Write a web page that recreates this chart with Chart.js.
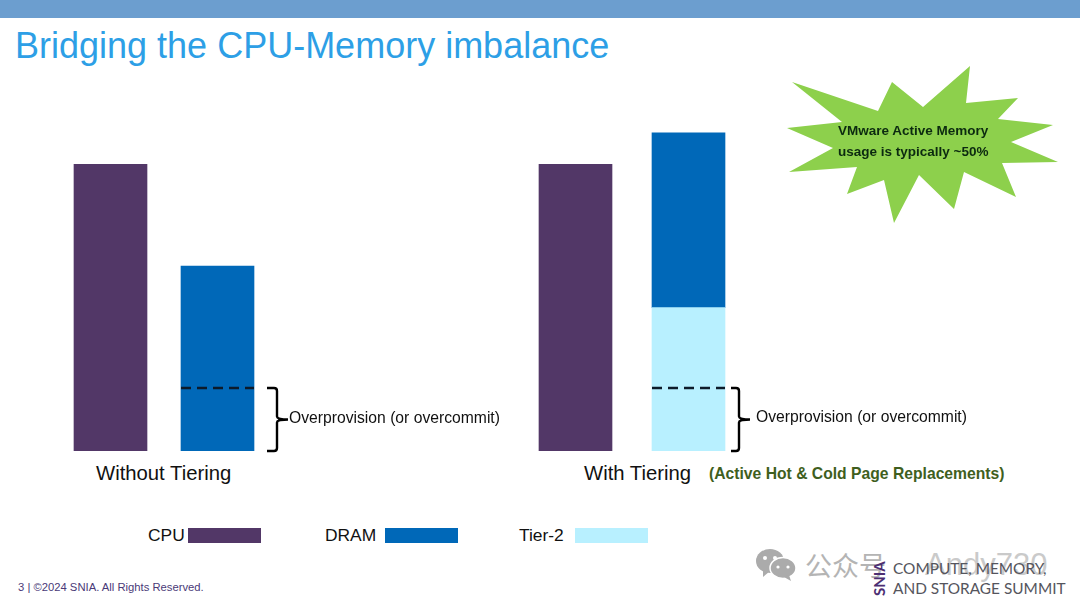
<!DOCTYPE html>
<html><head><meta charset="utf-8">
<script src="https://cdn.jsdelivr.net/npm/chart.js@4"></script>
<style>
html,body{margin:0;padding:0;background:#fff;}
#page{position:relative;width:1080px;height:608px;overflow:hidden;font-family:"Liberation Sans",Arial,sans-serif;background:#fff;}
.t{position:absolute;white-space:nowrap;line-height:1;color:#111;}
.box{position:absolute;}
.sw{position:absolute;height:15px;width:73px;top:528px;}
canvas{display:block;}
</style></head><body>
<div id="page">
<div class="box" style="left:0;top:0;width:1080px;height:18px;background:#6c9ecf"></div>
<div class="t" style="left:15px;top:28px;font-size:36px;color:#2d9fe6" id="title">Bridging the CPU-Memory imbalance</div>

<div class="box" style="left:57px;top:107px;width:244px;height:346px"><canvas id="c1"></canvas></div>
<div class="box" style="left:519px;top:107px;width:256px;height:346px"><canvas id="c2"></canvas></div>

<svg class="box" style="left:770px;top:50px" width="300" height="180">
<polygon fill="#8dd04c" points="22,32 108,61 122,32 153,57 200,16 196,53 248,48 228,69 283,75 241,92 288,112 232,113 246,147 194,122 184,159 149,125 124,173 114,130 77,144 87,117 19,122 63,98 17,78 72,72"/>
</svg>
<div class="t" style="left:838px;top:124px;font-size:13.5px;font-weight:bold;color:#0c2a10">VMware Active Memory</div>
<div class="t" style="left:838px;top:145px;font-size:13.5px;font-weight:bold;color:#0c2a10">usage is typically ~50%</div>

<div class="t" style="left:289px;top:410px;font-size:15.7px">Overprovision (or overcommit)</div>
<div class="t" style="left:756px;top:409px;font-size:15.7px">Overprovision (or overcommit)</div>
<div class="t" style="left:96px;top:463px;font-size:20.3px">Without Tiering</div>
<div class="t" style="left:584px;top:463px;font-size:20.3px">With Tiering</div>
<div class="t" style="left:709px;top:466px;font-size:15.7px;font-weight:bold;color:#3f5f1e">(Active Hot &amp; Cold Page Replacements)</div>

<div class="t" style="left:148px;top:527px;font-size:17.4px" id="l0"></div>
<div class="sw" style="left:188px" id="s0"></div>
<div class="t" style="left:325px;top:527px;font-size:17.4px" id="l1"></div>
<div class="sw" style="left:385px" id="s1"></div>
<div class="t" style="left:519px;top:527px;font-size:17.4px" id="l2"></div>
<div class="sw" style="left:575px" id="s2"></div>

<div class="t" style="left:18px;top:582px;font-size:11.25px;color:#4a3a78">3 | ©2024 SNIA. All Rights Reserved.</div>

<svg class="box" style="left:755px;top:546px" width="44" height="36">
<ellipse cx="15" cy="15" rx="14" ry="12" fill="#ababab"/><polygon points="8,24 8,31 15,25" fill="#ababab"/>
<ellipse cx="28" cy="22" rx="13" ry="10.5" fill="#ababab" stroke="#fff" stroke-width="1.5"/><polygon points="34,29 36,35 29,31" fill="#ababab"/>
<circle cx="10" cy="12" r="2" fill="#fff"/><circle cx="20" cy="12" r="2" fill="#fff"/><circle cx="23" cy="21" r="1.6" fill="#fff"/><circle cx="33" cy="21" r="1.6" fill="#fff"/>
</svg>
<div class="t" style="left:805px;top:551px;font-family:'Noto Sans CJK SC';font-size:27px;color:#b4b4b4">公众号</div>
<div class="t" style="left:925px;top:549px;font-size:31px;color:#cacaca">Andy730</div>
<div class="t" style="left:893px;top:561px;font-size:15.4px;color:#55555d;font-family:Lato,'Liberation Sans'">COMPUTE, MEMORY,</div>
<div class="t" style="left:893px;top:581px;font-size:15.4px;color:#55555d;font-family:Lato,'Liberation Sans'">AND STORAGE SUMMIT</div>
<div class="t" style="left:872px;top:596px;font-size:15px;font-weight:bold;color:#4c2f73;font-family:Lato,'Liberation Sans';transform-origin:0 0;transform:rotate(-90deg)">SNIA</div>
</div>
<script>
const memoryCategories = ["CPU", "Memory"];
const legendLabels = ["CPU", "DRAM", "Tier-2"];
const seriesColors = ["#523767", "#0068b8", "#b8f0ff"];
const withoutCpu = [100, null];
const withoutDram = [null, 64.5];
const withCpu = [100, null];
const withTier2 = [null, 50];
const withDram = [null, 61];
const overprovisionLevel = 22;

legendLabels.forEach((name, i) => {
  document.getElementById("l" + i).textContent = name;
  document.getElementById("s" + i).style.background = seriesColors[i];
});

const overprovisionMark = {
  id: "overprovisionMark",
  afterDatasetsDraw(chart, args, opts) {
    const { ctx, scales } = chart;
    const yTop = scales.y.getPixelForValue(overprovisionLevel);
    const yBase = scales.y.getPixelForValue(0);
    const bar = chart.getDatasetMeta(opts.barDataset).data[1];
    const left = bar.x - bar.width / 2, right = bar.x + bar.width / 2;
    ctx.save();
    ctx.strokeStyle = "#0d1b2a";
    ctx.lineWidth = 2.5;
    ctx.setLineDash([10, 6]);
    ctx.beginPath(); ctx.moveTo(left, yTop); ctx.lineTo(right, yTop); ctx.stroke();
    ctx.setLineDash([]);
    ctx.strokeStyle = "#000";
    ctx.lineWidth = 2.4;
    const x0 = right + opts.gap, xs = x0 + opts.armWidth, xt = xs + opts.tipWidth;
    const mid = (yTop + yBase) / 2;
    ctx.beginPath();
    ctx.moveTo(x0, yTop);
    ctx.lineTo(xs - 3, yTop);
    ctx.quadraticCurveTo(xs, yTop, xs, yTop + 3);
    ctx.lineTo(xs, mid - 3);
    ctx.quadraticCurveTo(xs, mid, xt, mid);
    ctx.quadraticCurveTo(xs, mid, xs, mid + 3);
    ctx.lineTo(xs, yBase - 3);
    ctx.quadraticCurveTo(xs, yBase, xs - 3, yBase);
    ctx.lineTo(x0, yBase);
    ctx.stroke();
    ctx.restore();
  }
};

function makeChart(id, datasets, paddingRight, mark) {
  new Chart(document.getElementById(id), {
    type: "bar",
    data: { labels: memoryCategories, datasets },
    plugins: [overprovisionMark],
    options: {
      responsive: true, maintainAspectRatio: false, animation: false,
      layout: { padding: { left: 0, right: paddingRight, top: 0, bottom: 2 } },
      plugins: { legend: { display: false }, tooltip: { enabled: false }, overprovisionMark: mark },
      scales: {
        x: { display: false, stacked: true, offset: true },
        y: { display: false, stacked: true, min: 0, max: 120 }
      }
    }
  });
}
const bar = (label, data, color) => ({ label, data, backgroundColor: color, barThickness: 73, borderWidth: 0 });

makeChart("c1", [
  bar("CPU", withoutCpu, seriesColors[0]),
  bar("DRAM", withoutDram, seriesColors[1])
], 30, { barDataset: 1, gap: 13, armWidth: 10, tipWidth: 11 });

makeChart("c2", [
  bar("CPU", withCpu, seriesColors[0]),
  bar("Tier-2", withTier2, seriesColors[2]),
  bar("DRAM", withDram, seriesColors[1])
], 30, { barDataset: 1, gap: 6, armWidth: 8, tipWidth: 11 });
</script>
</body></html>
